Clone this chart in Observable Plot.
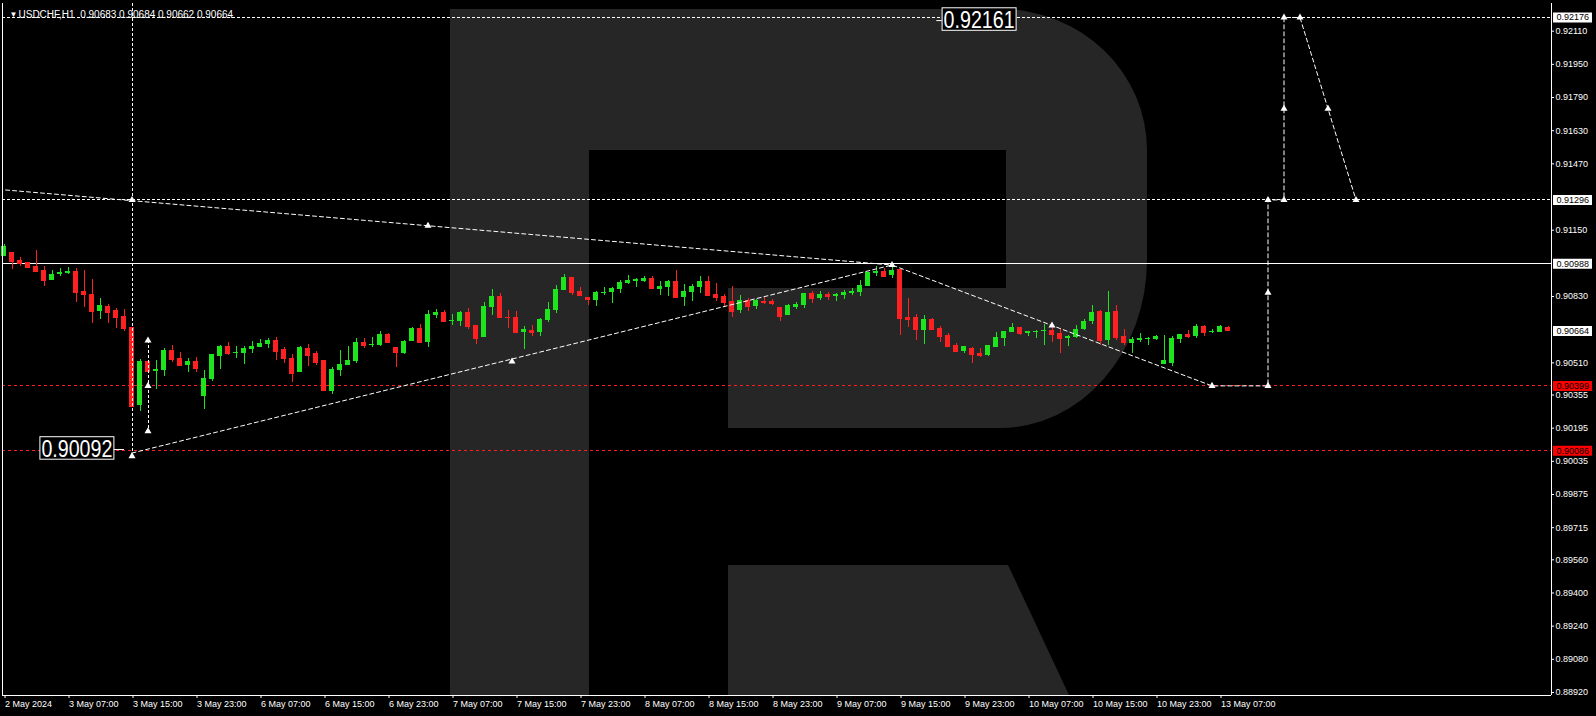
<!DOCTYPE html>
<html>
<head>
<meta charset="utf-8">
<script src="https://cdn.jsdelivr.net/npm/d3@7"></script>
<script src="https://cdn.jsdelivr.net/npm/@observablehq/plot@0.6"></script>
<style>
  html, body { margin: 0; padding: 0; background: #000; overflow: hidden; }
</style>
</head>
<body>
<script>
// ---- Data (USDCHF, H1) ----
const open = [
0.91021,0.91043,0.91004,0.90992,0.90975,0.90956,0.90905,0.90934,0.90942,0.90953,
0.90855,0.90840,0.90760,0.90782,0.90763,0.90734,0.90681,0.90306,0.90517,0.90470,
0.90475,0.90570,0.90531,0.90499,0.90517,0.90349,0.90430,0.90542,0.90589,0.90557,
0.90555,0.90576,0.90586,0.90599,0.90618,0.90575,0.90531,0.90465,0.90579,0.90555,
0.90521,0.90373,0.90475,0.90499,0.90517,0.90608,0.90597,0.90596,0.90647,0.90584,
0.90555,0.90615,0.90676,0.90610,0.90739,0.90753,0.90711,0.90711,0.90753,0.90690,
0.90634,0.90779,0.90831,0.90731,0.90729,0.90658,0.90666,0.90658,0.90716,0.90763,
0.90861,0.90922,0.90855,0.90826,0.90813,0.90845,0.90851,0.90864,0.90893,0.90903,
0.90903,0.90917,0.90864,0.90874,0.90903,0.90826,0.90850,0.90874,0.90903,0.90840,
0.90831,0.90806,0.90763,0.90811,0.90782,0.90806,0.90806,0.90777,0.90739,0.90777,
0.90787,0.90845,0.90821,0.90840,0.90831,0.90835,0.90845,0.90850,0.90879,0.90942,
0.90951,0.90932,0.90961,0.90729,0.90729,0.90666,0.90719,0.90676,0.90642,0.90594,
0.90565,0.90579,0.90555,0.90546,0.90584,0.90628,0.90657,0.90681,0.90652,0.90660,
0.90663,0.90666,0.90652,0.90628,0.90632,0.90671,0.90710,0.90758,0.90618,0.90758,
0.90637,0.90604,0.90618,0.90624,0.90623,0.90502,0.90507,0.90623,0.90647,0.90637,
0.90686,0.90657,0.90657,0.90683];
const high = [
0.91082,0.91043,0.91017,0.90992,0.91053,0.90975,0.90956,0.90966,0.90971,0.90963,
0.90956,0.90913,0.90821,0.90792,0.90773,0.90768,0.90681,0.90526,0.90517,0.90521,
0.90579,0.90594,0.90560,0.90531,0.90536,0.90473,0.90550,0.90594,0.90608,0.90589,
0.90589,0.90613,0.90623,0.90628,0.90632,0.90584,0.90550,0.90589,0.90599,0.90565,
0.90521,0.90488,0.90570,0.90589,0.90628,0.90628,0.90632,0.90661,0.90652,0.90584,
0.90618,0.90681,0.90695,0.90763,0.90768,0.90763,0.90744,0.90758,0.90773,0.90690,
0.90802,0.90864,0.90845,0.90763,0.90758,0.90686,0.90690,0.90724,0.90802,0.90884,
0.90937,0.90922,0.90874,0.90826,0.90855,0.90874,0.90874,0.90908,0.90932,0.90917,
0.90927,0.90927,0.90903,0.90908,0.90956,0.90889,0.90889,0.90927,0.90927,0.90893,
0.90840,0.90879,0.90835,0.90821,0.90816,0.90826,0.90816,0.90777,0.90792,0.90802,
0.90845,0.90855,0.90855,0.90850,0.90845,0.90860,0.90869,0.90908,0.90946,0.90975,
0.90966,0.90975,0.90961,0.90821,0.90744,0.90739,0.90724,0.90686,0.90652,0.90604,
0.90589,0.90584,0.90579,0.90594,0.90657,0.90661,0.90700,0.90681,0.90661,0.90666,
0.90695,0.90690,0.90676,0.90642,0.90690,0.90719,0.90787,0.90763,0.90855,0.90787,
0.90671,0.90632,0.90652,0.90632,0.90642,0.90642,0.90637,0.90647,0.90666,0.90695,
0.90690,0.90671,0.90690,0.90684];
const low = [
0.91021,0.90958,0.90977,0.90967,0.90953,0.90880,0.90905,0.90929,0.90934,0.90803,
0.90779,0.90702,0.90721,0.90702,0.90678,0.90663,0.90301,0.90277,0.90470,0.90383,
0.90446,0.90513,0.90499,0.90465,0.90465,0.90286,0.90422,0.90480,0.90547,0.90533,
0.90504,0.90555,0.90586,0.90581,0.90523,0.90509,0.90417,0.90465,0.90494,0.90499,
0.90373,0.90359,0.90446,0.90499,0.90509,0.90581,0.90586,0.90591,0.90604,0.90489,
0.90552,0.90615,0.90605,0.90586,0.90726,0.90707,0.90692,0.90687,0.90673,0.90600,
0.90634,0.90740,0.90726,0.90678,0.90653,0.90576,0.90639,0.90639,0.90707,0.90750,
0.90861,0.90837,0.90837,0.90789,0.90784,0.90837,0.90797,0.90845,0.90889,0.90874,
0.90898,0.90864,0.90835,0.90831,0.90826,0.90782,0.90806,0.90845,0.90835,0.90806,
0.90782,0.90729,0.90748,0.90758,0.90768,0.90792,0.90787,0.90710,0.90739,0.90768,
0.90773,0.90797,0.90811,0.90811,0.90806,0.90816,0.90835,0.90831,0.90879,0.90927,
0.90922,0.90917,0.90642,0.90681,0.90618,0.90599,0.90666,0.90608,0.90584,0.90565,
0.90555,0.90507,0.90536,0.90541,0.90584,0.90589,0.90657,0.90642,0.90637,0.90628,
0.90594,0.90608,0.90555,0.90589,0.90628,0.90666,0.90695,0.90594,0.90594,0.90618,
0.90594,0.90555,0.90608,0.90594,0.90618,0.90502,0.90492,0.90604,0.90628,0.90628,
0.90637,0.90652,0.90657,0.90662];
const close = [
0.91069,0.90998,0.90988,0.90972,0.90953,0.90909,0.90937,0.90946,0.90953,0.90851,
0.90842,0.90760,0.90787,0.90755,0.90731,0.90678,0.90301,0.90517,0.90470,0.90478,
0.90570,0.90528,0.90499,0.90517,0.90484,0.90434,0.90550,0.90589,0.90557,0.90560,
0.90579,0.90589,0.90604,0.90618,0.90567,0.90533,0.90460,0.90584,0.90546,0.90513,
0.90378,0.90478,0.90502,0.90521,0.90608,0.90594,0.90600,0.90647,0.90608,0.90562,
0.90613,0.90676,0.90610,0.90744,0.90753,0.90710,0.90715,0.90753,0.90687,0.90629,
0.90782,0.90831,0.90731,0.90728,0.90658,0.90671,0.90658,0.90719,0.90768,0.90864,
0.90922,0.90851,0.90837,0.90818,0.90850,0.90848,0.90869,0.90898,0.90908,0.90913,
0.90917,0.90869,0.90879,0.90903,0.90826,0.90855,0.90879,0.90903,0.90835,0.90826,
0.90802,0.90758,0.90811,0.90782,0.90811,0.90803,0.90797,0.90734,0.90787,0.90792,
0.90845,0.90821,0.90840,0.90831,0.90840,0.90850,0.90855,0.90884,0.90946,0.90951,
0.90927,0.90956,0.90724,0.90719,0.90671,0.90719,0.90671,0.90637,0.90589,0.90565,
0.90589,0.90550,0.90546,0.90594,0.90632,0.90661,0.90681,0.90652,0.90661,0.90663,
0.90666,0.90647,0.90628,0.90637,0.90671,0.90710,0.90753,0.90618,0.90753,0.90632,
0.90608,0.90623,0.90628,0.90628,0.90637,0.90521,0.90628,0.90647,0.90637,0.90686,
0.90657,0.90661,0.90686,0.90664];

// Time axis: one label every 8 hourly bars (bar index 0 = 2 May 23:00)
const xTickBars = [0,8,16,24,32,40,48,56,64,72,80,88,96,104,112,120,128,136,144,152];
const xTickLabels = ["2 May 2024","3 May 07:00","3 May 15:00","3 May 23:00","6 May 07:00","6 May 15:00",
  "6 May 23:00","7 May 07:00","7 May 15:00","7 May 23:00","8 May 07:00","8 May 15:00","8 May 23:00",
  "9 May 07:00","9 May 15:00","9 May 23:00","10 May 07:00","10 May 15:00","10 May 23:00","13 May 07:00"];

// Price axis ticks
const yTicks = [0.92110,0.91950,0.91790,0.91630,0.91470,0.91150,0.90830,0.90510,0.90355,0.90195,
  0.90035,0.89875,0.89715,0.89560,0.89400,0.89240,0.89080,0.88920];

// Levels
const solidLevels = [0.90988];
const dashedLevels = [0.92176, 0.91296];
const redLevels = [0.90399, 0.90086];
const axisBoxes = [0.92176, 0.91296, 0.90988, 0.90664];
const axisBoxesRed = [0.90399, 0.90086];

// Analysis lines
const trendA = [{i: 0.2, p: 0.91344}, {i: 111, p: 0.90982}];
const forecastPath = [
  {i: 16, p: 0.90075}, {i: 111, p: 0.90982}, {i: 151, p: 0.90399}, {i: 158, p: 0.90399},
  {i: 158, p: 0.91296}, {i: 160, p: 0.91296}, {i: 160, p: 0.92176}, {i: 162, p: 0.92176},
  {i: 169, p: 0.91296}];
const verticals = [{i: 16, p1: 0.92244, p2: 0.90075}, {i: 18, p1: 0.90618, p2: 0.90180}];
const markers = [
  {i: 16, p: 0.91296}, {i: 16, p: 0.90060}, {i: 18, p: 0.90618}, {i: 18, p: 0.90399}, {i: 18, p: 0.90180},
  {i: 53, p: 0.91171}, {i: 63.5, p: 0.90517}, {i: 111, p: 0.90982}, {i: 131, p: 0.90690},
  {i: 151, p: 0.90399}, {i: 158, p: 0.90399}, {i: 158, p: 0.90848}, {i: 158, p: 0.91296},
  {i: 160, p: 0.91296}, {i: 160, p: 0.91736}, {i: 160, p: 0.92176},
  {i: 162, p: 0.92176}, {i: 165.5, p: 0.91736}, {i: 169, p: 0.91296}];
const lowLabel = {text: "0.90092", p: 0.90092, i: 13.55, d1: 13.72, d2: 15.06};
const highLabel = {text: "0.92161", p: 0.92161, i: 117.45, d1: 116.6, d2: 117.3};
const header = "USDCHF,H1\u00a0 0.90683 0.90684 0.90662 0.90664";

// ---- Build ----
const candles = open.map((o, i) => ({i, o, h: high[i], l: low[i], c: close[i]}));
const GREEN = "#1ee41e", RED = "#ff2121";
const col = d => d.c >= d.o ? GREEN : RED;
const FONT = "'Liberation Sans', Arial, sans-serif";

function watermark() {
  const ns = "http://www.w3.org/2000/svg";
  const g = document.createElementNS(ns, "g");
  const a = document.createElementNS(ns, "path");
  a.setAttribute("d", "M450,9 H1000 A147,141 0 0 1 1147,150 V260 A147,168 0 0 1 1000,428 H728 V288 H1006 V150 H589 V695 H450 Z");
  a.setAttribute("fill", "#262626");
  const b = document.createElementNS(ns, "path");
  b.setAttribute("d", "M728,565 H1008 L1069,695 H728 Z");
  b.setAttribute("fill", "#262626");
  g.append(a, b);
  return g;
}

const plot = Plot.plot({
  width: 1596, height: 716,
  marginTop: 3, marginBottom: 21, marginLeft: 2, marginRight: 45,
  x: {domain: [-0.1875, 193.4375]},
  y: {domain: [0.889055, 0.922435]},
  style: {background: "#000", color: "#fff", fontFamily: FONT, fontSize: "9px", overflow: "visible"},
  marks: [
    watermark,
    Plot.ruleY(dashedLevels, {stroke: "#fff", strokeDasharray: "3,2", shapeRendering: "crispEdges"}),
    Plot.ruleY(redLevels, {stroke: "#ff1c1c", strokeDasharray: "3,3", shapeRendering: "crispEdges"}),
    Plot.ruleY(solidLevels, {stroke: "#fff", shapeRendering: "crispEdges"}),
    // candles
    Plot.ruleX(candles, {x: "i", y1: "l", y2: "h", stroke: col, shapeRendering: "crispEdges"}),
    Plot.rect(candles, {x1: d => d.i - 0.3125, x2: d => d.i + 0.3125, y1: "o", y2: "c", fill: col, shapeRendering: "crispEdges"}),
    Plot.ruleY(candles, {y: "c", x1: d => d.i - 0.3125, x2: d => d.i + 0.3125, stroke: col, shapeRendering: "crispEdges"}),
    // analysis drawings
    Plot.line(trendA, {x: "i", y: "p", stroke: "#fff", strokeDasharray: "4,3", strokeWidth: 1}),
    Plot.line(forecastPath, {x: "i", y: "p", stroke: "#fff", strokeDasharray: "4,3", strokeWidth: 1}),
    Plot.ruleX(verticals, {x: "i", y1: "p1", y2: "p2", stroke: "#fff", strokeDasharray: "3,2", shapeRendering: "crispEdges"}),
    Plot.dot(markers, {x: "i", y: "p", symbol: "triangle", r: 2.6, fill: "#fff", stroke: "none"}),
    Plot.ruleY([lowLabel, highLabel], {y: "p", x1: "d1", x2: "d2", stroke: "#fff"}),
    Plot.text([lowLabel], {x: "i", y: "p", text: "text", textAnchor: "end", fill: "#fff", fontSize: 24, fontFamily: FONT}),
    Plot.text([highLabel], {x: "i", y: "p", text: "text", textAnchor: "start", fill: "#fff", fontSize: 24, fontFamily: FONT}),
    // frame
    Plot.ruleX([-0.1875], {stroke: "#fff", shapeRendering: "crispEdges"}),
    Plot.ruleX([193.4375], {stroke: "#fff", shapeRendering: "crispEdges"}),
    Plot.ruleY([0.889055], {stroke: "#fff", shapeRendering: "crispEdges"}),
    // axes
    Plot.axisY(yTicks, {anchor: "right", tickSize: 2, tickPadding: 2, tickFormat: d => d.toFixed(5),
      fontSize: 9, fontFamily: FONT, label: null}),
    Plot.axisX(xTickBars, {anchor: "bottom", tickSize: 3, tickPadding: 2, textAnchor: "start", dx: 1,
      tickFormat: d => xTickLabels[xTickBars.indexOf(d)], fontSize: 9, fontFamily: FONT, label: null}),
    // price boxes on the axis
    Plot.ruleY(axisBoxes, {y: d => d, x1: 193.69, x2: 198.56, stroke: "#fff", strokeWidth: 10}),
    Plot.ruleY(axisBoxesRed, {y: d => d, x1: 193.69, x2: 198.56, stroke: "#ff0000", strokeWidth: 10}),
    Plot.text(axisBoxes.concat(axisBoxesRed), {y: d => d, x: 194.05, text: d => d.toFixed(5), textAnchor: "start",
      fill: "#000", fontSize: 9, fontFamily: FONT}),
    // header
    Plot.text(["\u25BC"], {frameAnchor: "top-left", dx: 7, dy: 7.7, fill: "#fff", fontSize: 8}),
    Plot.text([header], {frameAnchor: "top-left", dx: 16, dy: 7.7, textAnchor: "start", fill: "#fff", fontSize: 10, fontFamily: FONT})
  ]
});
document.body.append(plot);

// boxes around the big price labels
const bigTexts = [lowLabel.text, highLabel.text];
d3.select(plot).selectAll("text").filter(function () {
  return bigTexts.includes(this.textContent);
}).each(function () {
  if (parseFloat(getComputedStyle(this).fontSize) < 20) return;
  this.setAttribute("textLength", 71);
  this.setAttribute("lengthAdjust", "spacingAndGlyphs");
  const b = this.getBBox();
  const r = document.createElementNS("http://www.w3.org/2000/svg", "rect");
  const t = this.getAttribute("transform");
  if (t) r.setAttribute("transform", t);
  r.setAttribute("x", b.x - 1.5);
  r.setAttribute("y", b.y + 1.5);
  r.setAttribute("width", b.width + 3);
  r.setAttribute("height", 22.5);
  r.setAttribute("fill", "#000");
  r.setAttribute("stroke", "#fff");
  r.setAttribute("stroke-width", 1);
  this.parentNode.insertBefore(r, this);
});
</script>
</body>
</html>
